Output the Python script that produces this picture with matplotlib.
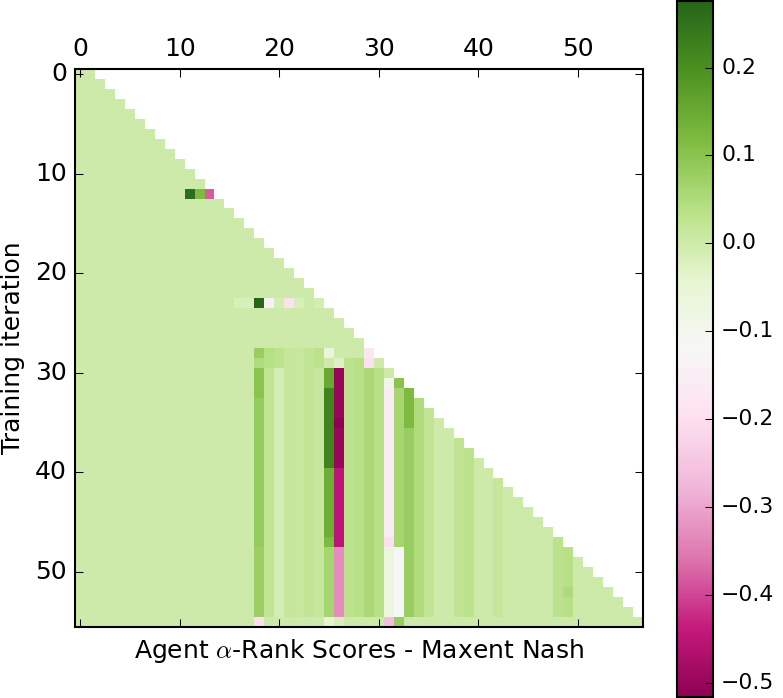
import numpy as np
import matplotlib
matplotlib.use("Agg")
import matplotlib.pyplot as plt

plt.style.use("classic")

n_rows = 56
n_cols = 57
background = 0.0

# column stripes: (col, first_row, last_row, value)
runs = [
    (18, 28, 28, 0.08), (18, 29, 29, 0.05), (18, 30, 32, 0.10),
    (18, 33, 47, 0.085), (18, 48, 54, 0.075),
    (19, 28, 29, 0.04), (19, 30, 54, 0.02),
    (20, 28, 29, 0.03), (20, 30, 54, -0.01),
    (21, 28, 54, 0.015),
    (22, 28, 54, 0.01),
    (23, 28, 54, 0.02),
    (24, 28, 29, 0.03), (24, 30, 54, 0.01),
    (25, 30, 31, 0.15), (25, 32, 39, 0.22), (25, 40, 47, 0.14), (25, 48, 54, 0.06),
    (26, 30, 39, -0.50), (26, 40, 47, -0.45), (26, 48, 54, -0.33),
    (27, 29, 54, 0.03),
    (28, 29, 54, 0.035),
    (29, 30, 54, 0.055),
    (30, 30, 54, 0.035),
    (31, 32, 46, -0.16), (31, 48, 54, -0.07),
    (32, 32, 47, 0.06), (32, 48, 54, -0.12),
    (33, 32, 35, 0.12), (33, 36, 54, 0.08),
    (34, 33, 54, 0.05),
    (35, 34, 54, 0.02),
    (38, 37, 54, 0.025),
    (39, 38, 54, 0.03),
    (42, 41, 54, 0.015),
    (48, 47, 54, 0.03),
    (49, 48, 54, 0.035),
]

# single cells: (row, col, value)
cells = [
    (12, 11, 0.26), (12, 12, 0.12), (12, 13, -0.38),
    (23, 16, -0.02), (23, 17, -0.02), (23, 18, 0.276), (23, 19, -0.14),
    (23, 20, -0.01), (23, 21, -0.19), (23, 22, -0.02), (23, 24, -0.01),
    (28, 25, -0.06), (29, 26, -0.03),
    (28, 29, -0.17), (29, 29, -0.20),
    (31, 31, -0.09), (47, 31, -0.20), (31, 32, 0.10),
    (47, 25, 0.12), (35, 26, -0.516),
    (55, 18, -0.20), (55, 25, -0.04), (55, 26, -0.02), (55, 31, -0.26), (55, 32, 0.08),
    (52, 49, 0.05),
]

cbar_ticks = [-0.5, -0.4, -0.3, -0.2, -0.1, 0.0, 0.1, 0.2]

data = np.full((n_rows, n_cols), background)
for c, r0, r1, v in runs:
    data[r0:r1 + 1, c] = v
for r, c, v in cells:
    data[r, c] = v
rows, cols = np.indices(data.shape)
data = np.ma.masked_where(cols > rows + 1, data)

fig = plt.figure(figsize=(783 / 150, 698 / 150), dpi=150)
fig.patch.set_facecolor("white")
ax = fig.add_axes([0.0960, 0.1024, 0.7248, 0.7983])
cax = fig.add_axes([0.865, 0.001, 0.0452, 0.998])

im = ax.matshow(data, cmap="PiYG")
ax.set_xticks(np.arange(0, 51, 10))
ax.set_yticks(np.arange(0, 51, 10))
ax.set_xlabel(r"Agent $\alpha$-Rank Scores - Maxent Nash")
ax.set_ylabel("Training iteration")

cb = fig.colorbar(im, cax=cax)
cb.set_ticks(cbar_ticks)
cb.ax.tick_params(labelsize=10.5)

fig.savefig("out.png", dpi=150, facecolor="white")
